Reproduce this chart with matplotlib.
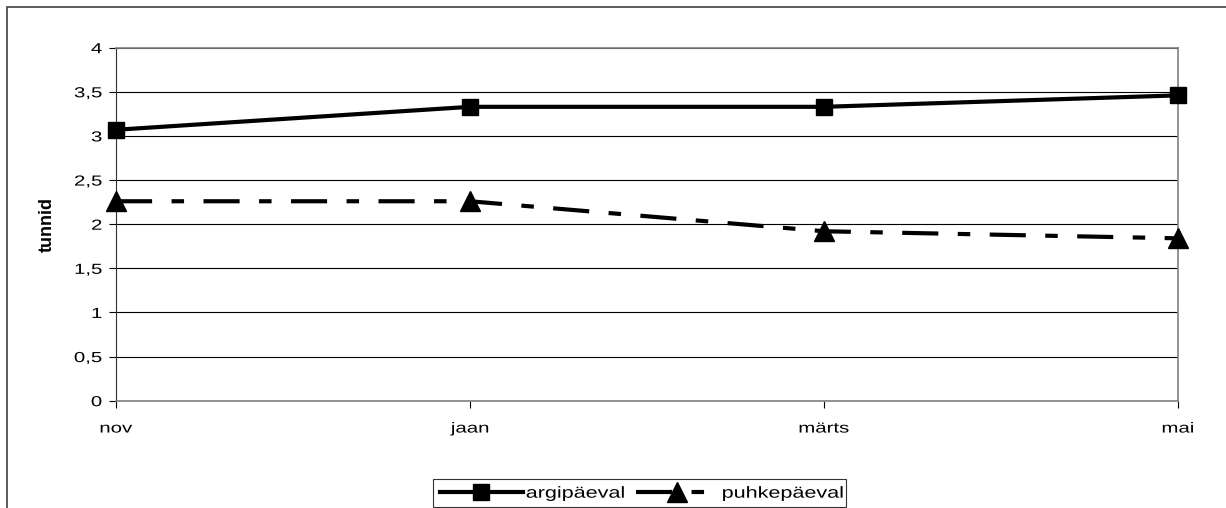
import matplotlib
matplotlib.use('Agg')
import matplotlib.pyplot as plt
from matplotlib.patches import Rectangle
from matplotlib.patheffects import AbstractPathEffect
from matplotlib.transforms import Affine2D

months = ['nov', 'jaan', 'märts', 'mai']
argipaeval = [3.07, 3.33, 3.33, 3.46]
puhkepaeval = [2.26, 2.26, 1.92, 1.84]
yticks = [0, 0.5, 1, 1.5, 2, 2.5, 3, 3.5, 4]
ylabels = ['0', '0,5', '1', '1,5', '2', '2,5', '3', '3,5', '4']

plt.rcParams['font.family'] = ['Liberation Sans', 'DejaVu Sans']
plt.rcParams['font.size'] = 10
plt.rcParams['lines.scale_dashes'] = False


class Widen(AbstractPathEffect):
    """Stretch glyphs horizontally around their left/center/right edge."""

    def __init__(self, sx, anchor='center'):
        super().__init__()
        self.sx = sx
        self.anchor = anchor

    def draw_path(self, renderer, gc, tpath, affine, rgbFace=None):
        ext = tpath.get_extents()
        x0 = {'left': ext.x0, 'center': (ext.x0 + ext.x1) / 2,
              'right': ext.x1}[self.anchor]
        pre = Affine2D().translate(-x0, 0).scale(self.sx, 1).translate(x0, 0)
        renderer.draw_path(gc, tpath, pre + affine, rgbFace)


W, H = 1226, 508
fig = plt.figure(figsize=(W / 100, H / 100), dpi=100)

# outer chart frame (runs past the right and bottom edges)
fig.patches.append(Rectangle((7 / W, -0.1), 1.2, 1 - 7 / H + 0.1,
                             transform=fig.transFigure, fill=False,
                             edgecolor='#404040', linewidth=1.2))

ax = fig.add_axes([116 / W, 1 - 400.7 / H, (1178 - 116) / W, (400.7 - 47.7) / H])
x = list(range(len(months)))

ax.set_axisbelow(True)
ax.grid(axis='y', color='black', linewidth=0.8)

ax.plot(x, argipaeval, color='black', linewidth=3, marker='s',
        markersize=11, label='argipäeval', clip_on=False, zorder=3)
line2, = ax.plot(x, puhkepaeval, color='black', linewidth=3, marker='^',
                 markersize=14, label='puhkepäeval', clip_on=False, zorder=3)
line2.set_dashes([26, 14, 9, 14])

ax.set_xlim(0, 3)
ax.set_ylim(0, 4)
ax.set_xticks(x)
ax.set_xticklabels(months)
ax.set_yticks(yticks)
ax.set_yticklabels(ylabels)
ax.tick_params(axis='x', length=5, pad=10, labelsize=10.5)
ax.tick_params(axis='y', length=5, pad=5, labelsize=10.5)
ax.set_ylabel('tunnid', fontweight='bold', fontsize=13, labelpad=19)

for t in ax.get_xticklabels():
    t.set_path_effects([Widen(1.4, 'center')])
for t in ax.get_yticklabels():
    t.set_path_effects([Widen(1.4, 'right')])

for side in ['top', 'right', 'bottom']:
    ax.spines[side].set_color('#808080')
    ax.spines[side].set_linewidth(1.2)
ax.spines['left'].set_color('#303030')

leg = ax.legend(loc='upper center', bbox_to_anchor=(0.493, -0.2), ncol=2,
                frameon=True, fancybox=False, edgecolor='black',
                handlelength=5.2, handletextpad=0.2, columnspacing=2.25,
                borderpad=0.4, fontsize=11.5)
leg.get_frame().set_linewidth(0.8)
leg.get_texts()[1].set_text('puhkepäeval\u2007\u2007\u2007')
for t in leg.get_texts():
    t.set_path_effects([Widen(1.35, 'left')])

fig.savefig('out.png', dpi=100)
